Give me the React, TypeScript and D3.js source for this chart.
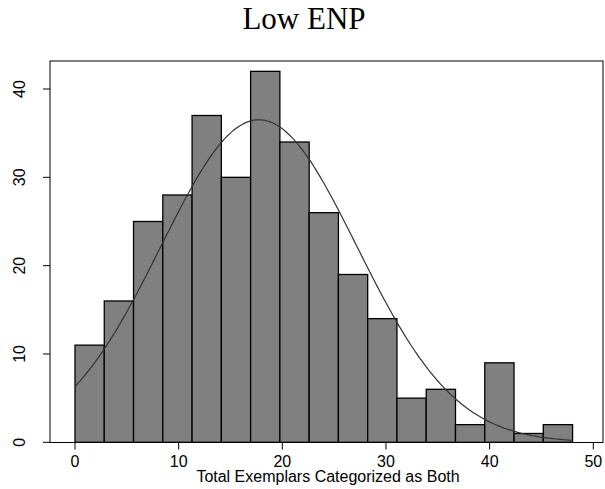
import React from "react";
import * as d3 from "d3";

const binStart = 0;
const binEnd = 48;
const counts = [11, 16, 25, 28, 37, 30, 42, 34, 26, 19, 14, 5, 6, 2, 9, 1, 2];
const xTicks = [0, 10, 20, 30, 40, 50];
const yTicks = [0, 10, 20, 30, 40];
const fitMean = 17.74;
const fitSd = 9.47;
const title = "Low ENP";
const xLabel = "Total Exemplars Categorized as Both";

const W = 605;
const H = 489;
const box = { left: 50, right: 603, top: 61, bottom: 442.5 };

export default function App() {
  const x = d3.scaleLinear().domain([0, 50]).range([75, 593.3]);
  const y = d3.scaleLinear().domain([0, 40]).range([442.3, 89]);
  const bw = (binEnd - binStart) / counts.length;
  const n = d3.sum(counts);
  const xs = d3.range(0, 301).map((i) => binStart + ((binEnd - binStart) * i) / 300);
  const dens = (v: number) =>
    (n * bw * Math.exp(-0.5 * ((v - fitMean) / fitSd) ** 2)) / (fitSd * Math.sqrt(2 * Math.PI));
  const line = d3
    .line<number>()
    .x((v) => x(v))
    .y((v) => y(dens(v)));

  return (
    <svg width={W} height={H} style={{ position: "absolute", left: 0, top: 0, background: "#fff" }}>
      <rect x={0} y={0} width={W} height={H} fill="#fff" />
      <text
        x={304}
        y={29}
        textAnchor="middle"
        fontFamily="'Liberation Serif', 'Times New Roman', serif"
        fontSize={31}
        fill="#000"
      >
        {title}
      </text>
      {counts.map((c, i) => {
        const x0 = binStart + i * bw;
        return (
          <rect
            key={i}
            x={x(x0)}
            y={y(c)}
            width={x(x0 + bw) - x(x0)}
            height={y(0) - y(c)}
            fill="#808080"
            stroke="#000"
            strokeWidth={1.3}
          />
        );
      })}
      <path d={line(xs) || ""} fill="none" stroke="#333" strokeWidth={1.2} />
      <rect
        x={box.left}
        y={box.top}
        width={box.right - box.left}
        height={box.bottom - box.top}
        fill="none"
        stroke="#000"
        strokeWidth={1}
      />
      {xTicks.map((t) => (
        <g key={"x" + t}>
          <line x1={x(t)} x2={x(t)} y1={box.bottom} y2={box.bottom + 7} stroke="#000" />
          <text
            x={x(t)}
            y={466.5}
            textAnchor="middle"
            fontFamily="'Liberation Sans', Arial, sans-serif"
            fontSize={16}
            fill="#000"
          >
            {t}
          </text>
        </g>
      ))}
      {yTicks.map((t) => (
        <g key={"y" + t}>
          <line x1={box.left - 7} x2={box.left} y1={y(t)} y2={y(t)} stroke="#000" />
          <text
            transform={`translate(24.5,${y(t)}) rotate(-90)`}
            textAnchor="middle"
            fontFamily="'Liberation Sans', Arial, sans-serif"
            fontSize={16}
            fill="#000"
          >
            {t}
          </text>
        </g>
      ))}
      <text
        x={328}
        y={482}
        textAnchor="middle"
        fontFamily="'Liberation Sans', Arial, sans-serif"
        fontSize={16}
        fill="#000"
      >
        {xLabel}
      </text>
    </svg>
  );
}
